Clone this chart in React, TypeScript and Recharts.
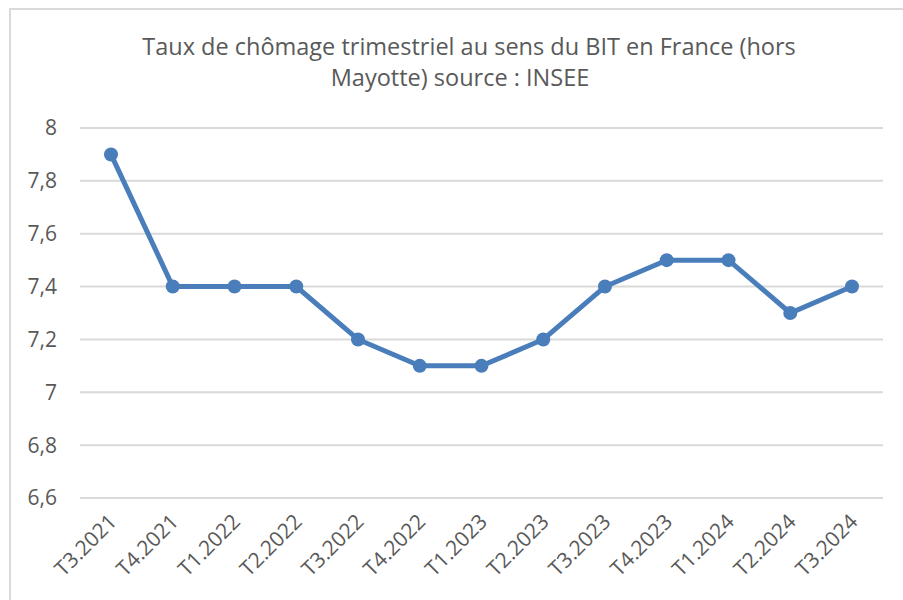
import { LineChart, Line, XAxis, YAxis, CartesianGrid } from "recharts"

const quarters = [
  "T3.2021", "T4.2021", "T1.2022", "T2.2022", "T3.2022", "T4.2022", "T1.2023",
  "T2.2023", "T3.2023", "T4.2023", "T1.2024", "T2.2024", "T3.2024",
]
const rates = [7.9, 7.4, 7.4, 7.4, 7.2, 7.1, 7.1, 7.2, 7.4, 7.5, 7.5, 7.3, 7.4]
const yTicks = [6.6, 6.8, 7, 7.2, 7.4, 7.6, 7.8, 8]
const titleLines = [
  "Taux de chômage trimestriel au sens du BIT en France (hors",
  "Mayotte) source : INSEE",
]

const data = quarters.map((q, i) => ({ name: q, rate: rates[i] }))

const FONT = "'Open Sans', sans-serif"
const GREY = "#595959"

const fmt = (v: number) => String(v).replace(".", ",")

const XTick = ({ x, y, payload }: any) => (
  <g transform={`translate(${x + 7},${y + 17})`}>
    <text transform="rotate(-45)" textAnchor="end" fill={GREY} fontSize={21} fontFamily={FONT}>
      {payload.value}
    </text>
  </g>
)

export default function App() {
  return (
    <div style={{ position: "absolute", left: 0, top: 0, width: 903, height: 600, overflow: "hidden", background: "#fff" }}>
      <div style={{ position: "absolute", left: 9, top: 8, width: 910, height: 610, border: "2px solid #d9d9d9", boxSizing: "border-box" }} />
      {titleLines.map((t, i) => (
        <div
          key={i}
          style={{
            position: "absolute",
            left: 0,
            width: i === 0 ? 938 : 920,
            top: 31 + i * 31,
            textAlign: "center",
            fontFamily: FONT,
            fontSize: 23.5,
            color: GREY,
            lineHeight: "30px",
            whiteSpace: "nowrap",
          }}
        >
          {t}
        </div>
      ))}
      <div style={{ position: "absolute", left: 0, top: 0 }}>
        <LineChart width={903} height={600} data={data} margin={{ top: 128, right: 20, bottom: 0, left: 10 }}>
          <CartesianGrid vertical={false} stroke="#d9d9d9" strokeWidth={2} />
          <XAxis
            dataKey="name"
            height={102}
            axisLine={false}
            tickLine={false}
            interval={0}
            padding={{ left: 31, right: 31 }}
            tick={<XTick />}
          />
          <YAxis
            width={70}
            domain={[6.6, 8]}
            ticks={yTicks}
            axisLine={false}
            tickLine={false}
            tickMargin={17}
            tickFormatter={fmt}
            tick={{ fill: GREY, fontSize: 21, fontFamily: FONT }}
          />
          <Line
            type="linear"
            dataKey="rate"
            stroke="#4a7ebb"
            strokeWidth={5}
            dot={{ r: 7, fill: "#4a7ebb", stroke: "#4a7ebb", strokeWidth: 0 }}
            isAnimationActive={false}
          />
        </LineChart>
      </div>
    </div>
  )
}
